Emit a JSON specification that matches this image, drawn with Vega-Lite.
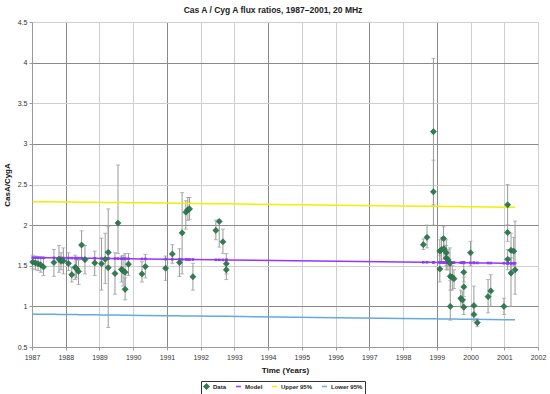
{
  "$schema": "https://vega.github.io/schema/vega-lite/v6.json",
  "width": 506,
  "height": 325,
  "autosize": {"type": "none"},
  "padding": {"left": 32, "top": 22, "right": 12, "bottom": 47},
  "background": "white",
  "config": {
    "font": "Liberation Sans",
    "view": {"stroke": null},
    "legend": {"gridAlign": "none"},
    "axis": {"labelFontSize": 7, "labelColor": "#333", "titleFontSize": 8, "titleFontWeight": "bold", "titleColor": "#111", "domainColor": "#999", "tickColor": "#999", "tickSize": 3, "labelFlush": false}
  },
  "title": {"text": "Cas A / Cyg A flux ratios, 1987–2001, 20 MHz", "fontSize": 8.5, "fontWeight": "bold", "color": "#222", "offset": 4, "dx": -12},
  "data": {"values": [
    {"t": 1987.02, "Data": 1.545, "lo": 1.46, "hi": 1.63, "Model": 1.600, "Upper 95%": 2.290, "Lower 95%": 0.905},
    {"t": 1987.10, "Data": 1.535, "lo": 1.45, "hi": 1.62, "Model": 1.599, "Upper 95%": 2.289, "Lower 95%": 0.904},
    {"t": 1987.18, "Data": 1.525, "lo": 1.44, "hi": 1.61, "Model": 1.599, "Upper 95%": 2.289, "Lower 95%": 0.904},
    {"t": 1987.26, "Data": 1.51, "lo": 1.42, "hi": 1.60, "Model": 1.599, "Upper 95%": 2.289, "Lower 95%": 0.904},
    {"t": 1987.34, "Data": 1.485, "lo": 1.38, "hi": 1.59, "Model": 1.598, "Upper 95%": 2.288, "Lower 95%": 0.903},
    {"t": 1987.65, "Data": 1.54, "lo": 1.37, "hi": 1.70, "Model": 1.597, "Upper 95%": 2.287, "Lower 95%": 0.902},
    {"t": 1987.80, "Data": 1.58, "lo": 1.42, "hi": 1.75, "Model": 1.596, "Upper 95%": 2.286, "Lower 95%": 0.901},
    {"t": 1987.86, "Data": 1.555, "lo": 1.45, "hi": 1.66, "Model": 1.596, "Upper 95%": 2.286, "Lower 95%": 0.901},
    {"t": 1987.93, "Data": 1.56, "lo": 1.40, "hi": 1.72, "Model": 1.595, "Upper 95%": 2.285, "Lower 95%": 0.900},
    {"t": 1988.08, "Data": 1.53, "lo": 1.44, "hi": 1.66, "Model": 1.595, "Upper 95%": 2.285, "Lower 95%": 0.900},
    {"t": 1988.18, "Data": 1.39, "lo": 1.30, "hi": 1.48, "Model": 1.594, "Upper 95%": 2.284, "Lower 95%": 0.899},
    {"t": 1988.28, "Data": 1.48, "lo": 1.33, "hi": 1.63, "Model": 1.594, "Upper 95%": 2.284, "Lower 95%": 0.899},
    {"t": 1988.32, "Data": 1.465, "lo": 1.35, "hi": 1.58, "Model": 1.594, "Upper 95%": 2.284, "Lower 95%": 0.899},
    {"t": 1988.38, "Data": 1.43, "lo": 1.27, "hi": 1.57, "Model": 1.593, "Upper 95%": 2.283, "Lower 95%": 0.898},
    {"t": 1988.47, "Data": 1.755, "lo": 1.58, "hi": 1.93, "Model": 1.593, "Upper 95%": 2.283, "Lower 95%": 0.898},
    {"t": 1988.57, "Data": 1.575, "lo": 1.40, "hi": 1.75, "Model": 1.592, "Upper 95%": 2.282, "Lower 95%": 0.897},
    {"t": 1988.86, "Data": 1.535, "lo": 1.38, "hi": 1.68, "Model": 1.591, "Upper 95%": 2.281, "Lower 95%": 0.896},
    {"t": 1989.06, "Data": 1.525, "lo": 1.20, "hi": 1.84, "Model": 1.590, "Upper 95%": 2.280, "Lower 95%": 0.895},
    {"t": 1989.17, "Data": 1.58, "lo": 1.28, "hi": 1.90, "Model": 1.589, "Upper 95%": 2.279, "Lower 95%": 0.894},
    {"t": 1989.26, "Data": 1.665, "lo": 1.50, "hi": 1.98, "Model": 1.589, "Upper 95%": 2.279, "Lower 95%": 0.894},
    {"t": 1989.26, "Data": 1.475, "lo": 0.74, "hi": 2.20, "Model": 1.589, "Upper 95%": 2.279, "Lower 95%": 0.894},
    {"t": 1989.46, "Data": 1.405, "lo": 1.15, "hi": 1.66, "Model": 1.588, "Upper 95%": 2.278, "Lower 95%": 0.893},
    {"t": 1989.55, "Data": 2.025, "lo": 1.65, "hi": 2.74, "Model": 1.588, "Upper 95%": 2.278, "Lower 95%": 0.893},
    {"t": 1989.65, "Data": 1.455, "lo": 1.30, "hi": 1.62, "Model": 1.587, "Upper 95%": 2.277, "Lower 95%": 0.892},
    {"t": 1989.70, "Data": 1.44, "lo": 1.25, "hi": 1.63, "Model": 1.587, "Upper 95%": 2.277, "Lower 95%": 0.892},
    {"t": 1989.76, "Data": 1.42, "lo": 1.20, "hi": 1.65, "Model": 1.586, "Upper 95%": 2.276, "Lower 95%": 0.891},
    {"t": 1989.76, "Data": 1.21, "lo": 1.08, "hi": 1.35, "Model": 1.586, "Upper 95%": 2.276, "Lower 95%": 0.891},
    {"t": 1989.86, "Data": 1.52, "lo": 1.38, "hi": 1.65, "Model": 1.586, "Upper 95%": 2.276, "Lower 95%": 0.891},
    {"t": 1990.26, "Data": 1.40, "lo": 1.30, "hi": 1.55, "Model": 1.584, "Upper 95%": 2.274, "Lower 95%": 0.889},
    {"t": 1990.36, "Data": 1.49, "lo": 1.35, "hi": 1.64, "Model": 1.584, "Upper 95%": 2.274, "Lower 95%": 0.889},
    {"t": 1990.96, "Data": 1.47, "lo": 1.32, "hi": 1.62, "Model": 1.581, "Upper 95%": 2.271, "Lower 95%": 0.886},
    {"t": 1991.16, "Data": 1.645, "lo": 1.53, "hi": 1.76, "Model": 1.580, "Upper 95%": 2.270, "Lower 95%": 0.885},
    {"t": 1991.37, "Data": 1.54, "lo": 1.37, "hi": 1.71, "Model": 1.579, "Upper 95%": 2.269, "Lower 95%": 0.884},
    {"t": 1991.45, "Data": 1.905, "lo": 1.40, "hi": 2.40, "Model": 1.578, "Upper 95%": 2.268, "Lower 95%": 0.883},
    {"t": 1991.56, "Data": 2.16, "lo": 1.95, "hi": 2.30, "Model": 1.578, "Upper 95%": 2.268, "Lower 95%": 0.883},
    {"t": 1991.62, "Data": 2.19, "lo": 2.06, "hi": 2.34, "Model": 1.577, "Upper 95%": 2.267, "Lower 95%": 0.882},
    {"t": 1991.67, "Data": 2.20, "lo": 2.07, "hi": 2.34, "Model": 1.577, "Upper 95%": 2.267, "Lower 95%": 0.882},
    {"t": 1991.77, "Data": 1.365, "lo": 1.20, "hi": 1.53, "Model": 1.577, "Upper 95%": 2.267, "Lower 95%": 0.882},
    {"t": 1992.45, "Data": 1.935, "lo": 1.82, "hi": 2.06, "Model": 1.573, "Upper 95%": 2.263, "Lower 95%": 0.878},
    {"t": 1992.55, "Data": 2.045, "lo": 1.73, "hi": 2.07, "Model": 1.573, "Upper 95%": 2.263, "Lower 95%": 0.878},
    {"t": 1992.66, "Data": 1.795, "lo": 1.65, "hi": 1.95, "Model": 1.572, "Upper 95%": 2.262, "Lower 95%": 0.877},
    {"t": 1992.76, "Data": 1.525, "lo": 1.40, "hi": 1.65, "Model": 1.572, "Upper 95%": 2.262, "Lower 95%": 0.877},
    {"t": 1992.76, "Data": 1.45, "lo": 1.33, "hi": 1.57, "Model": 1.572, "Upper 95%": 2.262, "Lower 95%": 0.877},
    {"t": 1998.60, "Data": 1.76, "lo": 1.70, "hi": 1.83, "Model": 1.543, "Upper 95%": 2.233, "Lower 95%": 0.848},
    {"t": 1998.71, "Data": 1.85, "lo": 1.72, "hi": 2.00, "Model": 1.543, "Upper 95%": 2.233, "Lower 95%": 0.848},
    {"t": 1998.90, "Data": 2.41, "lo": 2.00, "hi": 2.80, "Model": 1.542, "Upper 95%": 2.232, "Lower 95%": 0.847},
    {"t": 1998.90, "Data": 3.15, "lo": 2.25, "hi": 4.05, "Model": 1.542, "Upper 95%": 2.232, "Lower 95%": 0.847},
    {"t": 1999.09, "Data": 1.68, "lo": 1.55, "hi": 1.82, "Model": 1.541, "Upper 95%": 2.231, "Lower 95%": 0.846},
    {"t": 1999.09, "Data": 1.46, "lo": 1.30, "hi": 1.63, "Model": 1.541, "Upper 95%": 2.231, "Lower 95%": 0.846},
    {"t": 1999.14, "Data": 1.70, "lo": 1.55, "hi": 1.85, "Model": 1.541, "Upper 95%": 2.231, "Lower 95%": 0.846},
    {"t": 1999.20, "Data": 1.835, "lo": 1.70, "hi": 1.98, "Model": 1.540, "Upper 95%": 2.230, "Lower 95%": 0.845},
    {"t": 1999.21, "Data": 1.71, "lo": 1.58, "hi": 1.85, "Model": 1.540, "Upper 95%": 2.230, "Lower 95%": 0.845},
    {"t": 1999.28, "Data": 1.66, "lo": 1.50, "hi": 1.82, "Model": 1.540, "Upper 95%": 2.230, "Lower 95%": 0.845},
    {"t": 1999.28, "Data": 1.595, "lo": 1.45, "hi": 1.75, "Model": 1.540, "Upper 95%": 2.230, "Lower 95%": 0.845},
    {"t": 1999.33, "Data": 1.575, "lo": 1.45, "hi": 1.70, "Model": 1.540, "Upper 95%": 2.230, "Lower 95%": 0.845},
    {"t": 1999.39, "Data": 1.53, "lo": 1.35, "hi": 1.72, "Model": 1.539, "Upper 95%": 2.229, "Lower 95%": 0.844},
    {"t": 1999.40, "Data": 1.37, "lo": 1.20, "hi": 1.55, "Model": 1.539, "Upper 95%": 2.229, "Lower 95%": 0.844},
    {"t": 1999.40, "Data": 1.00, "lo": 0.83, "hi": 1.32, "Model": 1.539, "Upper 95%": 2.229, "Lower 95%": 0.844},
    {"t": 1999.46, "Data": 1.36, "lo": 1.20, "hi": 1.50, "Model": 1.539, "Upper 95%": 2.229, "Lower 95%": 0.844},
    {"t": 1999.51, "Data": 1.34, "lo": 1.22, "hi": 1.45, "Model": 1.539, "Upper 95%": 2.229, "Lower 95%": 0.844},
    {"t": 1999.71, "Data": 1.10, "lo": 1.00, "hi": 1.20, "Model": 1.538, "Upper 95%": 2.228, "Lower 95%": 0.843},
    {"t": 1999.76, "Data": 1.08, "lo": 0.98, "hi": 1.18, "Model": 1.537, "Upper 95%": 2.227, "Lower 95%": 0.842},
    {"t": 1999.80, "Data": 1.42, "lo": 1.30, "hi": 1.55, "Model": 1.537, "Upper 95%": 2.227, "Lower 95%": 0.842},
    {"t": 1999.80, "Data": 1.24, "lo": 1.12, "hi": 1.36, "Model": 1.537, "Upper 95%": 2.227, "Lower 95%": 0.842},
    {"t": 1999.80, "Data": 0.99, "lo": 0.90, "hi": 1.08, "Model": 1.537, "Upper 95%": 2.227, "Lower 95%": 0.842},
    {"t": 2000.00, "Data": 1.66, "lo": 1.50, "hi": 1.80, "Model": 1.536, "Upper 95%": 2.226, "Lower 95%": 0.841},
    {"t": 2000.10, "Data": 1.01, "lo": 0.90, "hi": 1.25, "Model": 1.536, "Upper 95%": 2.226, "Lower 95%": 0.841},
    {"t": 2000.10, "Data": 0.90, "lo": 0.82, "hi": 1.00, "Model": 1.536, "Upper 95%": 2.226, "Lower 95%": 0.841},
    {"t": 2000.20, "Data": 0.80, "lo": 0.75, "hi": 0.85, "Model": 1.535, "Upper 95%": 2.225, "Lower 95%": 0.840},
    {"t": 2000.52, "Data": 1.12, "lo": 0.92, "hi": 1.33, "Model": 1.534, "Upper 95%": 2.224, "Lower 95%": 0.839},
    {"t": 2000.60, "Data": 1.19, "lo": 1.00, "hi": 1.39, "Model": 1.533, "Upper 95%": 2.223, "Lower 95%": 0.838},
    {"t": 2000.99, "Data": 1.00, "lo": 0.90, "hi": 1.10, "Model": 1.531, "Upper 95%": 2.221, "Lower 95%": 0.836},
    {"t": 2001.10, "Data": 2.25, "lo": 2.00, "hi": 2.50, "Model": 1.531, "Upper 95%": 2.221, "Lower 95%": 0.836},
    {"t": 2001.10, "Data": 1.91, "lo": 1.80, "hi": 2.00, "Model": 1.531, "Upper 95%": 2.221, "Lower 95%": 0.836},
    {"t": 2001.10, "Data": 1.58, "lo": 1.45, "hi": 1.70, "Model": 1.531, "Upper 95%": 2.221, "Lower 95%": 0.836},
    {"t": 2001.20, "Data": 1.69, "lo": 1.40, "hi": 1.90, "Model": 1.530, "Upper 95%": 2.220, "Lower 95%": 0.835},
    {"t": 2001.20, "Data": 1.41, "lo": 1.00, "hi": 1.60, "Model": 1.530, "Upper 95%": 2.220, "Lower 95%": 0.835},
    {"t": 2001.28, "Data": 1.68, "lo": 1.50, "hi": 1.85, "Model": 1.530, "Upper 95%": 2.220, "Lower 95%": 0.835},
    {"t": 2001.32, "Data": 1.45, "lo": 1.15, "hi": 2.05, "Model": 1.530, "Upper 95%": 2.220, "Lower 95%": 0.835}
  ]},
  "transform": [{"fold": ["Data", "Model", "Upper 95%", "Lower 95%"], "as": ["series", "val"]}],
  "encoding": {
    "x": {"field": "t", "type": "quantitative",
      "scale": {"domain": [1987, 2002], "nice": false, "zero": false},
      "axis": {"title": "Time (Years)", "values": [1987,1988,1989,1990,1991,1992,1993,1994,1995,1996,1997,1998,1999,2000,2001,2002], "format": "d", "labelPadding": 3, "titlePadding": 6,
        "grid": true, "gridColor": {"condition": {"test": "indexof([1988,1991,1994,1997,1999], datum.value) >= 0", "value": "#8a8a8a"}, "value": "#cfcfcf"}}}
  },
  "layer": [
    {
      "transform": [{"filter": "datum.series === 'Data'"}],
      "mark": {"type": "errorbar", "color": "#9a9a9a", "thickness": 1, "ticks": {"size": 4, "color": "#9a9a9a"}},
      "encoding": {
        "y": {"field": "lo", "type": "quantitative",
          "scale": {"domain": [0.5, 4.5], "nice": false, "zero": false},
          "axis": {"title": "CasA/CygA", "values": [0.5,1,1.5,2,2.5,3,3.5,4,4.5], "format": "~g", "labelPadding": 2, "titlePadding": 6,
            "grid": true, "gridColor": {"condition": {"test": "datum.value % 1 === 0", "value": "#8a8a8a"}, "value": "#cfcfcf"}}},
        "y2": {"field": "hi"}
      }
    },
    {
      "transform": [{"filter": "datum.series !== 'Data'"}],
      "mark": {"type": "line", "strokeWidth": 1.5},
      "encoding": {
        "y": {"field": "val", "type": "quantitative"},
        "color": {"field": "series", "type": "nominal",
          "scale": {"domain": ["Data", "Model", "Upper 95%", "Lower 95%"], "range": ["#2e7d50", "#9933ff", "#f0f000", "#66aadd"]}}
      }
    },
    {
      "transform": [{"filter": "datum.series === 'Model'"}],
      "mark": {"type": "point", "shape": "square", "filled": true, "size": 7, "color": "#8f3cf0", "opacity": 1},
      "encoding": {"y": {"field": "val", "type": "quantitative"}}
    },
    {
      "transform": [{"filter": "datum.series === 'Data'"}],
      "mark": {"type": "point", "filled": true, "size": 38, "opacity": 1, "stroke": "#1f5a3a", "strokeWidth": 0.5},
      "encoding": {
        "y": {"field": "val", "type": "quantitative"},
        "color": {"field": "series", "type": "nominal",
          "scale": {"domain": ["Data", "Model", "Upper 95%", "Lower 95%"], "range": ["#2e7d50", "#9933ff", "#f0f000", "#66aadd"]},
          "legend": {"title": null, "orient": "none", "legendX": 169, "legendY": 359, "direction": "horizontal", "gridAlign": "none",
            "strokeColor": "#333", "fillColor": "white", "padding": 2, "labelFontSize": 6, "labelFontWeight": "bold", "labelColor": "#222",
            "symbolSize": 24, "symbolStrokeWidth": 1.5, "columnPadding": 6, "labelOffset": 3,
            "encode": {"symbols": {"update": {"stroke": {"scale": "color", "field": "value"}, "fill": {"scale": "color", "field": "value"}}}}}},
        "shape": {"field": "series", "type": "nominal",
          "scale": {"domain": ["Data", "Model", "Upper 95%", "Lower 95%"], "range": ["diamond", "stroke", "stroke", "stroke"]}}
      }
    }
  ]
}
